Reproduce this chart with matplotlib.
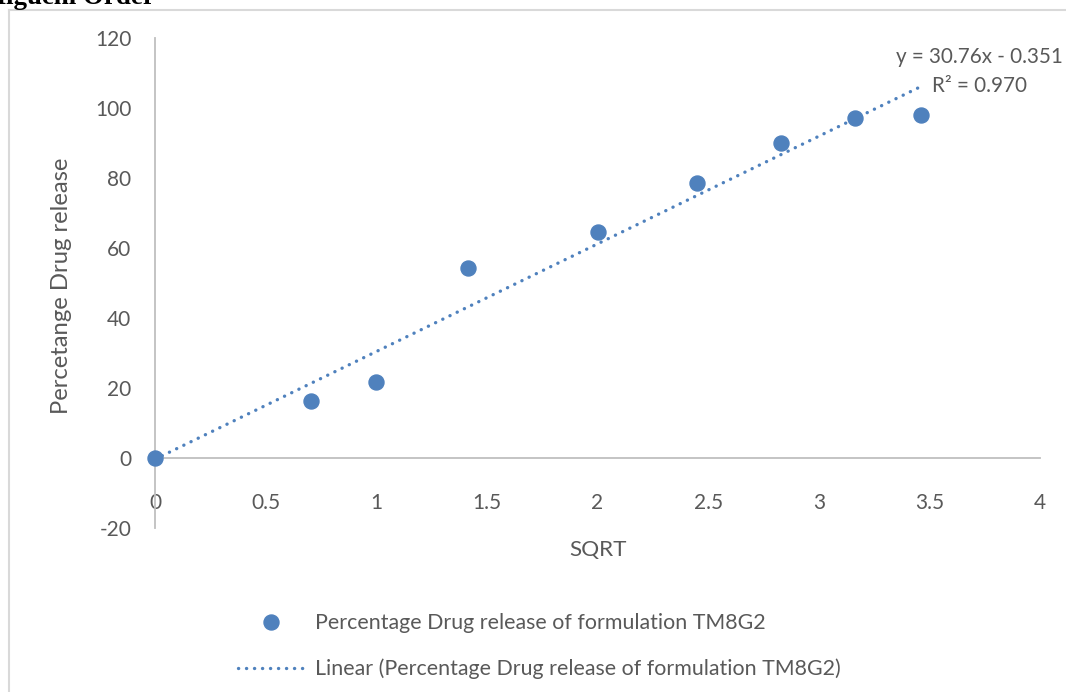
import matplotlib
matplotlib.use("Agg")
import matplotlib.pyplot as plt
from matplotlib.lines import Line2D

# Higuchi plot data: square root of time vs cumulative % drug release
sqrt_time = [0.0, 0.707, 1.0, 1.414, 2.0, 2.449, 2.828, 3.162, 3.464]
pct_release = [0.0, 16.4, 21.8, 54.2, 64.7, 78.5, 90.1, 97.2, 98.0]

# Linear trendline as reported on the chart
slope = 30.76
intercept = -0.351
r_squared = 0.970

x_ticks = [0, 0.5, 1, 1.5, 2, 2.5, 3, 3.5, 4]
x_tick_labels = ["0", "0.5", "1", "1.5", "2", "2.5", "3", "3.5", "4"]
y_ticks = [-20, 0, 20, 40, 60, 80, 100, 120]
y_tick_labels = ["-20", "0", "20", "40", "60", "80", "100", "120"]

series_name = "Percentage Drug release of formulation TM8G2"
trend_name = "Linear (Percentage Drug release of formulation TM8G2)"

BLUE = "#4F81BD"
TEXT = "#595959"
AXIS = "#BFBFBF"
FONT = "Lato"
FS_TICK = 15.0
FS_LEG = 15.4

W, H = 1066, 692
fig = plt.figure(figsize=(W / 100, H / 100), dpi=100)

def fx(px):
    return px / W

def fy(py):
    return 1 - py / H

ax = fig.add_axes([fx(155), fy(528), fx(1040) - fx(155), fy(38) - fy(528)])
ax.set_xlim(0, 4)
ax.set_ylim(-20, 120)

# trendline over the data range
x0, x1 = sqrt_time[0], sqrt_time[-1]
dotted = (0, (0.05, 2.35))
ax.plot([x0, x1], [slope * x0 + intercept, slope * x1 + intercept],
        color=BLUE, lw=2.4, linestyle=dotted, dash_capstyle="round", zorder=2)
ax.plot(sqrt_time, pct_release, linestyle="none", marker="o", ms=10.8,
        color=BLUE, mec=BLUE, zorder=3, clip_on=False)

for side in ("top", "right"):
    ax.spines[side].set_visible(False)
ax.spines["bottom"].set_position(("data", 0))
for side in ("left", "bottom"):
    ax.spines[side].set_color(AXIS)
    ax.spines[side].set_linewidth(1.3)

ax.set_xticks(x_ticks)
ax.set_xticklabels(x_tick_labels)
ax.set_yticks(y_ticks)
ax.set_yticklabels(y_tick_labels)
ax.tick_params(axis="both", length=0, labelcolor=TEXT, labelsize=FS_TICK)
ax.tick_params(axis="x", pad=25)
ax.tick_params(axis="y", pad=17)
for lab in ax.get_xticklabels() + ax.get_yticklabels():
    lab.set_fontfamily(FONT)

fig.text(fx(62), fy(286), "Percetange Drug release", rotation=90,
         ha="center", va="center", color=TEXT, fontsize=17.2, family=FONT)
fig.text(fx(598), fy(550), "SQRT", ha="center", va="center",
         color=TEXT, fontsize=16.2, family=FONT)

# trendline equation and R²
fig.text(fx(979), fy(57), f"y = {slope:.2f}x - {abs(intercept):.3f}",
         ha="center", va="center", color=TEXT, fontsize=14.9, family=FONT)
fig.text(fx(979), fy(86), f"R² = {r_squared:.3f}",
         ha="center", va="center", color=TEXT, fontsize=14.9, family=FONT)

handles = [
    Line2D([], [], linestyle="none", marker="o", ms=10.8, color=BLUE),
    Line2D([], [], color=BLUE, lw=2.4, linestyle=dotted, dash_capstyle="round"),
]
leg = fig.legend(handles, [series_name, trend_name], loc="upper left",
                 bbox_to_anchor=(fx(238), fy(613)), frameon=False,
                 prop={"family": FONT, "size": FS_LEG}, handlelength=3.13,
                 handletextpad=0.47, labelspacing=1.2, borderaxespad=0,
                 borderpad=0)
for t in leg.get_texts():
    t.set_color(TEXT)

# chart area border (partially visible)
fig.add_artist(Line2D([fx(9), fx(9)], [fy(10), fy(H + 5)], color="#D9D9D9",
                      lw=1.5, transform=fig.transFigure))
fig.add_artist(Line2D([fx(9), fx(W + 5)], [fy(10), fy(10)], color="#D9D9D9",
                      lw=1.5, transform=fig.transFigure))

# heading above the chart, clipped by the page edge
fig.text(fx(155), fy(4), "Higuchi Order", ha="right", va="baseline",
         fontsize=19.4, fontweight="bold", family="Liberation Serif",
         color="black")

fig.savefig("out.png", dpi=100)
